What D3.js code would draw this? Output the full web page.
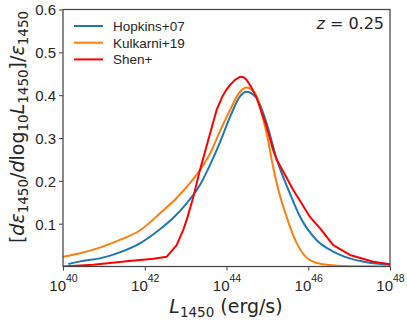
<!DOCTYPE html>
<html><head><meta charset="utf-8">
<script src="https://cdn.jsdelivr.net/npm/d3@7"></script>
<style>
body{margin:0;background:#fff;}
svg{display:block;}
text{fill:#262626;}
</style></head>
<body>
<svg id="chart" width="407" height="326"></svg>
<script>
// ---- data (log10 L1450, normalized emissivity) ----
const hopkinsLogL = [40.13,40.42,40.9,41.39,41.88,42.37,42.7,43.03,43.35,43.6,43.84,44.09,44.33,44.49,44.6,44.74,44.98,45.23,45.55,45.8,46.2,46.61,47.02,47.43,48.0];
const hopkinsY    = [0.006,0.012,0.019,0.033,0.054,0.087,0.114,0.148,0.19,0.238,0.29,0.35,0.397,0.408,0.405,0.393,0.335,0.25,0.171,0.116,0.062,0.035,0.019,0.010,0.004];

const kulkarniLogL = [40.0,40.42,40.9,41.39,41.88,42.37,42.78,43.1,43.35,43.6,43.84,44.09,44.33,44.49,44.6,44.74,44.88,44.98,45.14,45.23,45.47,45.72,46.04,46.45,47.0,48.0];
const kulkarniY    = [0.023,0.031,0.044,0.062,0.084,0.124,0.16,0.194,0.225,0.264,0.316,0.366,0.408,0.418,0.414,0.397,0.35,0.311,0.233,0.194,0.116,0.054,0.015,0.004,0.0005,0.0];

const shenLogL = [40.0,40.74,41.56,42.21,42.54,42.78,42.94,43.03,43.19,43.35,43.6,43.76,43.9,44.0,44.09,44.2,44.33,44.42,44.49,44.6,44.74,44.98,45.14,45.23,45.63,46.04,46.29,46.61,47.02,47.59,48.0];
const shenY    = [0.0,0.004,0.012,0.018,0.023,0.05,0.085,0.11,0.163,0.225,0.311,0.366,0.397,0.413,0.424,0.435,0.443,0.442,0.436,0.42,0.393,0.327,0.272,0.249,0.179,0.116,0.089,0.05,0.027,0.011,0.005];

const seriesNames = ["Hopkins+07","Kulkarni+19","Shen+"];
const seriesColors = ["#1f77b4","#ff7f0e","#ff0000"];
const xTickExps = [40,42,44,46,48];
const yTicks = [0.1,0.2,0.3,0.4,0.5,0.6];
const zLabel = "0.25";

// ---- layout ----
const svg = d3.select("#chart");
const L = 63, R = 390, T = 9.5, B = 266.5;
const x = d3.scaleLog().domain([1e40,1e48]).range([L,R]);
const y = d3.scaleLinear().domain([0,0.6]).range([B,T]);
const tickFont = "'Liberation Sans', Arial, sans-serif";
const mathFont = "'DejaVu Sans', sans-serif";

const series = [
  {name:seriesNames[0], color:seriesColors[0], lx:hopkinsLogL, ly:hopkinsY, curve:d3.curveMonotoneX},
  {name:seriesNames[1], color:seriesColors[1], lx:kulkarniLogL, ly:kulkarniY, curve:d3.curveMonotoneX},
  {name:seriesNames[2], color:seriesColors[2], lx:shenLogL, ly:shenY, curve:d3.curveLinear}
];

svg.append("clipPath").attr("id","clip").append("rect")
  .attr("x",L).attr("y",T).attr("width",R-L).attr("height",B-T);

const g = svg.append("g").attr("clip-path","url(#clip)");
series.forEach(s=>{
  const pts = s.lx.map((v,i)=>[Math.pow(10,v), s.ly[i]]);
  const line = d3.line().x(d=>x(d[0])).y(d=>y(d[1])).curve(s.curve);
  g.append("path").attr("d",line(pts)).attr("fill","none")
    .attr("stroke",s.color).attr("stroke-width",2).attr("stroke-linejoin","round");
});

// axes
const xAxis = d3.axisBottom(x).tickValues(xTickExps.map(e=>Math.pow(10,e))).tickSize(4).tickFormat("");
const gx = svg.append("g").attr("transform",`translate(0,${B})`).call(xAxis);
gx.select(".domain").remove();
gx.selectAll(".tick line").attr("stroke","#444").attr("stroke-width",1);
gx.selectAll(".tick").each(function(d,i){
  const t = d3.select(this).append("text").attr("y",24.5).attr("text-anchor","middle")
    .style("font-family",tickFont).style("font-size","15px").attr("fill","#262626");
  t.append("tspan").text("10");
  t.append("tspan").attr("dy",-9.5).style("font-size","10.5px").text(String(xTickExps[i]));
});

const yAxis = d3.axisLeft(y).tickValues(yTicks).tickSize(4).tickFormat(d3.format(".1f"));
const gy = svg.append("g").attr("transform",`translate(${L},0)`).call(yAxis);
gy.select(".domain").remove();
gy.selectAll(".tick line").attr("stroke","#444").attr("stroke-width",1);
gy.selectAll(".tick text").attr("x",-7).attr("dy","0.36em")
  .style("font-family",tickFont).style("font-size","15px").attr("fill","#262626");

// frame
svg.append("rect").attr("x",L).attr("y",T).attr("width",R-L).attr("height",B-T)
  .attr("fill","none").attr("stroke","#444").attr("stroke-width",1.25);

// legend
series.forEach((s,i)=>{
  const yy = 26 + i*16.7;
  svg.append("line").attr("x1",74).attr("x2",103).attr("y1",yy).attr("y2",yy)
    .attr("stroke",s.color).attr("stroke-width",2);
  svg.append("text").attr("x",113).attr("y",yy+4.8).text(s.name)
    .style("font-family",tickFont).style("font-size","13.5px");
});

// z label
const zt = svg.append("text").attr("x",384).attr("y",29).attr("text-anchor","end")
  .style("font-family",mathFont).style("font-size","16px");
zt.append("tspan").style("font-style","italic").text("z");
zt.append("tspan").text(" = " + zLabel);

// x label
const xl = svg.append("text").attr("x",226).attr("y",312.5).attr("text-anchor","middle")
  .style("font-family",mathFont).style("font-size","19px");
xl.append("tspan").style("font-style","italic").text("L");
xl.append("tspan").attr("dy",4).style("font-size","13.5px").text("1450");
xl.append("tspan").attr("dy",-4).text(" (erg/s)");

// y label
const yl = svg.append("text").attr("transform","translate(24,127) rotate(-90)")
  .attr("text-anchor","middle").style("font-family",mathFont).style("font-size","19px");
const parts = [
  ["[",false,0],["d\u03b5",true,0],["1450",false,1],["/",false,-1],["d",true,0],["log",false,0],
  ["10",false,1],["L",true,-1],["1450",false,1],["]/",false,-1],["\u03b5",true,0],["1450",false,1]
];
parts.forEach(p=>{
  const ts = yl.append("tspan").text(p[0]);
  if(p[1]) ts.style("font-style","italic");
  if(p[2]===1){ ts.attr("dy",4).style("font-size","13.5px"); }
  else if(p[2]===-1){ ts.attr("dy",-4); }
});
</script>
</body></html>
